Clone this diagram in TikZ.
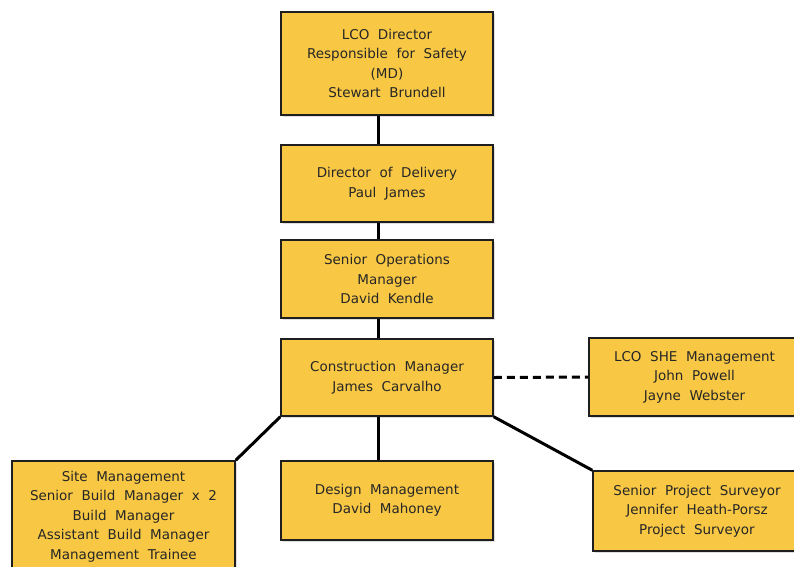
\documentclass[tikz,border=0pt]{standalone}
\usepackage{fontspec}
\setmainfont[WordSpace=2]{DejaVu Sans}
\usepackage{xcolor}
\usetikzlibrary{shadows}

\definecolor{boxfill}{RGB}{248,200,68}
\definecolor{boxline}{RGB}{30,30,30}

\begin{document}
\begin{tikzpicture}[
    x=1pt, y=1pt,
    role/.style={rectangle, draw=boxline, line width=1.5pt, fill=boxfill,
        align=center, inner sep=0pt, text=black!85,
        font=\fontsize{13.5}{19.5}\selectfont,
        drop shadow={shadow xshift=1.5pt, shadow yshift=-2pt, opacity=0.25}},
    link/.style={line width=3pt},
    dlink/.style={line width=3pt, dash pattern=on 8pt off 5pt}
]
    \useasboundingbox (0,0) rectangle (794,-566);

    \node[role, minimum width=212, minimum height=103] (md) at (387,-63.5)
        {LCO Director\\Responsible for Safety\\(MD)\\Stewart Brundell};
    \node[role, minimum width=212, minimum height=77] (dod) at (387,-183.5)
        {Director of Delivery\\Paul James};
    \node[role, minimum width=212, minimum height=78] (sops) at (387,-279)
        {Senior Operations\\Manager\\David Kendle};
    \node[role, minimum width=212, minimum height=77] (cm) at (387,-377.5)
        {Construction Manager\\James Carvalho};
    \node[role, minimum width=211, minimum height=78] (she) at (694.5,-377)
        {LCO SHE Management\\John Powell\\Jayne Webster};
    \node[role, minimum width=223, minimum height=111] (site) at (123.5,-516.5)
        {Site Management\\Senior Build Manager x 2\\Build Manager\\Assistant Build Manager\\Management Trainee};
    \node[role, minimum width=212, minimum height=79] (design) at (387,-500.5)
        {Design Management\\David Mahoney};
    \node[role, minimum width=208, minimum height=80] (survey) at (697,-511)
        {Senior Project Surveyor\\Jennifer Heath-Porsz\\Project Surveyor};

    % reporting lines
    \draw[link] ([xshift=-9pt]md.south) -- ([xshift=-9pt]dod.north);
    \draw[link] ([xshift=-9pt]dod.south) -- ([xshift=-9pt]sops.north);
    \draw[link] ([xshift=-9pt]sops.south) -- ([xshift=-9pt]cm.north);
    \draw[link] ([xshift=-9pt]cm.south) -- ([xshift=-9pt]design.north);
    \draw[link] (cm.south west) -- (site.north east);
    \draw[link] (cm.south east) -- (survey.north west);
    \draw[dlink] (cm.east) -- (she.west);
\end{tikzpicture}
\end{document}
